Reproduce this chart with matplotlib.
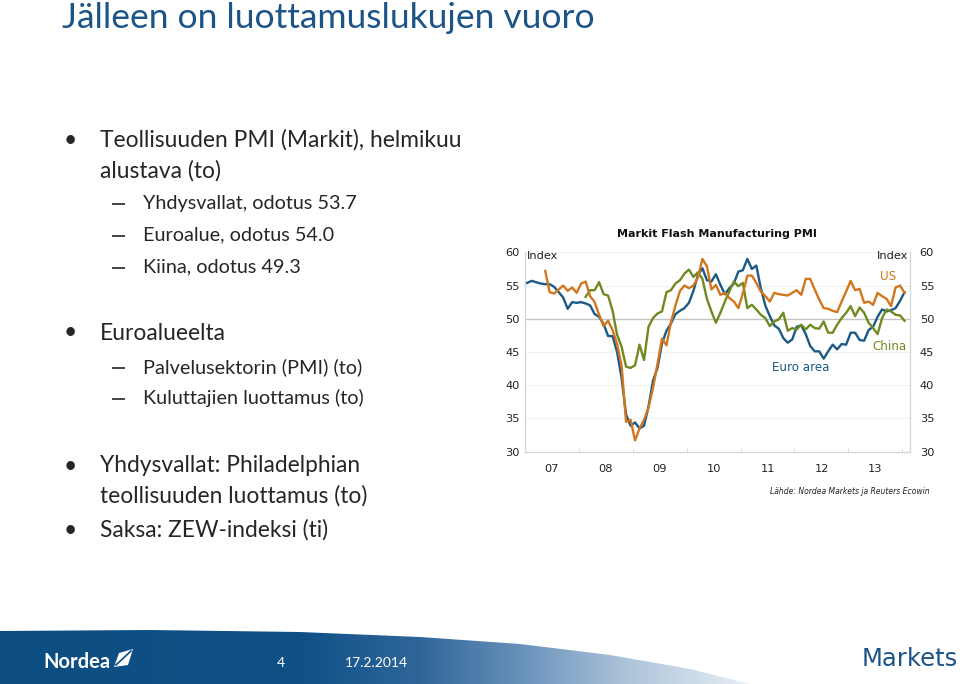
import numpy as np
import matplotlib
matplotlib.use("Agg")
import matplotlib.pyplot as plt
from matplotlib.patches import Polygon
from matplotlib.colors import to_rgb

# ---------------- data (monthly PMI) ----------------
euro_start = (2007, 1)
euro_area = [55.4, 55.7, 55.5, 55.3, 55.2, 55.2, 54.8, 54.0, 53.2, 51.5, 52.5, 52.4,
             52.5, 52.3, 52.0, 50.7, 50.3, 49.2, 47.4, 47.4, 45.0, 41.1, 35.6, 33.9,
             34.4, 33.5, 33.9, 36.8, 40.7, 42.6, 46.3, 48.2, 49.3, 50.7, 51.2, 51.6,
             52.4, 54.2, 56.6, 57.6, 55.8, 55.6, 56.7, 55.1, 53.7, 54.6, 55.3, 57.1,
             57.3, 59.0, 57.5, 58.0, 54.6, 52.0, 50.4, 49.0, 48.5, 47.1, 46.4, 46.9,
             48.8, 49.0, 47.7, 45.9, 45.1, 45.1, 44.0, 45.1, 46.1, 45.4, 46.2, 46.1,
             47.9, 47.9, 46.8, 46.7, 48.3, 48.8, 50.3, 51.4, 51.1, 51.3, 51.6, 52.7,
             54.0]

us_start = (2007, 5)
us = [57.2, 54.0, 53.8, 54.4, 55.0, 54.2, 54.7, 53.9,
      55.3, 55.6, 53.4, 52.5, 50.6, 48.9, 49.7, 48.3, 46.2, 43.0, 34.5, 34.8,
      31.7, 33.5, 34.8, 36.6, 39.6, 43.2, 47.0, 46.0, 49.5, 52.0, 54.2, 55.0,
      54.6, 55.0, 56.2, 59.0, 57.9, 54.4, 55.1, 53.6, 53.9, 53.1, 52.6, 51.6,
      53.8, 56.5, 56.5, 55.4, 54.1, 53.4, 52.6, 53.9, 53.7, 53.6, 53.5, 53.9,
      54.3, 53.6, 56.0, 56.0, 54.4, 52.9, 51.6, 51.5, 51.2, 51.0, 52.6, 54.1,
      55.7, 54.3, 54.5, 52.4, 52.6, 52.1, 53.9, 53.4, 53.0, 51.9, 54.7, 55.0,
      53.9]

china_start = (2008, 2)
china = [53.3, 54.3, 54.3, 55.5, 53.7, 53.5, 51.2, 47.6, 45.8, 42.8, 42.6,
         43.0, 46.1, 43.8, 48.8, 50.1, 50.8, 51.1, 54.0, 54.3, 55.3, 55.8, 56.8,
         57.4, 56.3, 57.0, 56.0, 53.0, 51.1, 49.4, 50.9, 52.6, 54.1, 55.6, 54.9,
         55.4, 51.6, 52.1, 51.4, 50.6, 50.1, 48.9, 49.6, 49.9, 50.9, 48.2, 48.6,
         48.4, 49.1, 48.4, 49.1, 48.6, 48.5, 49.6, 47.9, 47.9, 49.1, 50.1, 50.9,
         51.9, 50.4, 51.7, 50.9, 49.4, 48.6, 47.7, 50.1, 51.4, 51.1, 50.6, 50.5,
         49.7]

year_labels = ["07", "08", "09", "10", "11", "12", "13"]
y_ticks = [30, 35, 40, 45, 50, 55, 60]


def month_axis(start, n):
    y0, m0 = start
    return np.array([y0 + (m0 - 1 + k + 0.5) / 12.0 for k in range(n)])


W, H = 960, 684
fig = plt.figure(figsize=(W / 100, H / 100), dpi=100)
fig.patch.set_facecolor("white")

# ---------------- background / footer ----------------
bg = fig.add_axes([0, 0, 1, 1], zorder=-5)
bg.set_xlim(0, W)
bg.set_ylim(H, 0)
bg.axis("off")

stops = [(0, "#0d4e82"), (300, "#0f5087"), (420, "#2f6699"),
         (520, "#6790ba"), (620, "#a9c1d8"), (745, "#e6edf4"), (960, "#ffffff")]
xs = np.linspace(0, W, 480)
sx = [s[0] for s in stops]
cols = np.array([to_rgb(s[1]) for s in stops])
grad = np.stack([np.interp(xs, sx, cols[:, c]) for c in range(3)], axis=-1)[None, :, :]
band = Polygon([(0, 631), (150, 630), (300, 632), (420, 637), (520, 644),
                (610, 655), (690, 669), (750, 684), (0, 684)],
               closed=True, transform=bg.transData, facecolor="none", edgecolor="none")
bg.add_patch(band)
im = bg.imshow(grad, extent=(0, W, 684, 625), aspect="auto", zorder=1)
im.set_clip_path(band)

# Nordea logo
bg.text(43, 662, "Nordea", color="white", fontsize=14.5, fontweight="bold",
        family="Lato", ha="left", va="center", zorder=3)
bg.add_patch(Polygon([(114, 667), (119, 653), (133, 649), (128, 665)], closed=True,
                     facecolor="white", edgecolor="none", zorder=3))
bg.plot([116, 131], [665, 651], color="#0d4e82", lw=1.2, zorder=4)
bg.text(281, 663, "4", color="white", fontsize=10, family="Lato",
        ha="center", va="center", zorder=3)
bg.text(345, 663, "17.2.2014", color="white", fontsize=10, family="Lato",
        ha="left", va="center", zorder=3)
bg.text(958, 659, "Markets", color="#1d5488", fontsize=17.5, family="DejaVu Sans",
        ha="right", va="center", zorder=3)

# ---------------- slide texts ----------------
title_col = "#1c5488"
txt_col = "#262626"
bg.text(62, 18, "Jälleen on luottamuslukujen vuoro", color=title_col, fontsize=25.5,
        family="Lato", ha="left", va="center")


def T(x, y, s, size=16.4, **kw):
    bg.text(x, y, s, fontsize=size, family="Lato", color=txt_col,
            ha="left", va="center", **kw)


def D(y):
    bg.plot([112, 125], [y + 1, y + 1], color=txt_col, lw=1.2, solid_capstyle="butt")


sub = 14.3
T(64, 140, "•")
T(100, 140, "Teollisuuden PMI (Markit), helmikuu")
T(100, 171, "alustava (to)")
for yy, s in [(203, "Yhdysvallat, odotus 53.7"), (235, "Euroalue, odotus 54.0"),
              (267, "Kiina, odotus 49.3")]:
    D(yy)
    T(143, yy, s, sub)
T(64, 333, "•")
T(100, 333, "Euroalueelta")
for yy, s in [(367, "Palvelusektorin (PMI) (to)"), (398, "Kuluttajien luottamus (to)")]:
    D(yy)
    T(143, yy, s, sub)
T(64, 466, "•")
T(100, 466, "Yhdysvallat: Philadelphian")
T(100, 496, "teollisuuden luottamus (to)")
T(64, 530, "•")
T(100, 530, "Saksa: ZEW-indeksi (ti)")

# ---------------- chart ----------------
c_euro = "#1b5a86"
c_us = "#d2761e"
c_china = "#6f8a1f"
grey = "#d4d4d4"

ax = fig.add_axes([525 / W, 1 - 451.7 / H, 385 / W, 199.4 / H])
ax.set_xlim(2007.0, 2014.143)
ax.set_ylim(30, 60)
ax.set_facecolor("none")

for v in y_ticks:
    if v == 50:
        ax.axhline(v, color="#c3c3c3", lw=1.0, zorder=1)
    elif v != 30:
        ax.axhline(v, color="#f1f1f1", lw=0.8, zorder=0)

lw = 1.7
ax.plot(month_axis(euro_start, len(euro_area)), euro_area, color=c_euro, lw=lw, zorder=3)
ax.plot(month_axis(china_start, len(china)), china, color=c_china, lw=lw, zorder=4)
ax.plot(month_axis(us_start, len(us)), us, color=c_us, lw=lw, zorder=5)

for sp in ["left", "bottom", "right"]:
    ax.spines[sp].set_color(grey)
    ax.spines[sp].set_linewidth(0.9)
ax.spines["top"].set_visible(False)

ax.set_yticks(y_ticks)
ax.set_yticklabels([str(v) for v in y_ticks])
ax.tick_params(axis="y", length=0, pad=4, labelsize=8.2, labelcolor="#222222")

ax.set_xticks([2007.5 + k for k in range(len(year_labels))])
ax.set_xticklabels(year_labels)
ax.set_xticks([2008 + k for k in range(7)], minor=True)
ax.tick_params(axis="x", which="major", length=0, pad=9, labelsize=8.2, labelcolor="#222222")
ax.tick_params(axis="x", which="minor", length=3, direction="in", color=grey)

ax2 = ax.twinx()
ax2.set_ylim(30, 60)
ax2.set_yticks(y_ticks)
ax2.set_yticklabels([str(v) for v in y_ticks])
ax2.tick_params(axis="y", length=0, pad=7, labelsize=8.2, labelcolor="#222222")
for sp in ax2.spines.values():
    sp.set_visible(False)

fs = 8.2
ax.text(2007.04, 59.4, "Index", fontsize=fs, ha="left", va="center", color="#222222")
ax.text(2014.105, 59.4, "Index", fontsize=fs, ha="right", va="center", color="#222222")
ax.text(2013.73, 56.3, "US", fontsize=8.6, color=c_us, ha="center", va="center")
ax.text(2013.77, 45.9, "China", fontsize=8.6, color=c_china, ha="center", va="center")
ax.text(2012.12, 42.6, "Euro area", fontsize=8.6, color=c_euro, ha="center", va="center")

fig.text(717 / W, 1 - 234 / H, "Markit Flash Manufacturing PMI", fontsize=8,
         fontweight="bold", ha="center", va="center", color="#111111")
fig.text(930 / W, 1 - 492 / H, "Lähde: Nordea Markets ja Reuters Ecowin", fontsize=5.5,
         style="italic", ha="right", va="center", color="#222222")

fig.savefig("out.png", dpi=100, facecolor="white")
